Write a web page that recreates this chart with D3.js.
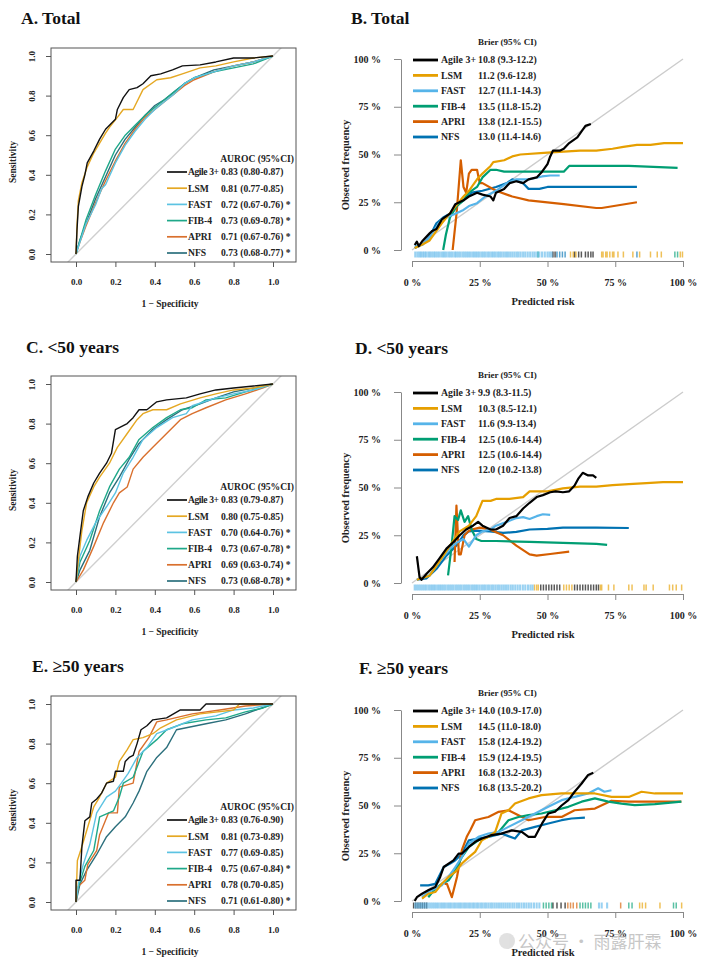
<!DOCTYPE html>
<html><head><meta charset="utf-8">
<script src="https://cdn.jsdelivr.net/npm/d3@7"></script>
<style>body{margin:0;background:#fff}svg{display:block}</style>
</head><body>
<svg id="c" width="709" height="972"></svg>
<script>
// ---------------- DATA ----------------
const models = ["Agile 3+","LSM","FAST","FIB-4","APRI","NFS"];
const rocTicks = [0,0.2,0.4,0.6,0.8,1.0];
const rocTickLabels = ["0.0","0.2","0.4","0.6","0.8","1.0"];
const calTicks = [0,0.25,0.5,0.75,1.0];
const calTickLabels = ["0 %","25 %","50 %","75 %","100 %"];
const rocTitles = ["A. Total","C. <50 years","E. \u226550 years"];
const calTitles = ["B. Total","D. <50 years","F. \u226550 years"];

const aurocA = ["0.83 (0.80-0.87)","0.81 (0.77-0.85)","0.72 (0.67-0.76) *","0.73 (0.69-0.78) *","0.71 (0.67-0.76) *","0.73 (0.68-0.77) *"];
const aurocC = ["0.83 (0.79-0.87)","0.80 (0.75-0.85)","0.70 (0.64-0.76) *","0.73 (0.67-0.78) *","0.69 (0.63-0.74) *","0.73 (0.68-0.78) *"];
const aurocE = ["0.83 (0.76-0.90)","0.81 (0.73-0.89)","0.77 (0.69-0.85)","0.75 (0.67-0.84) *","0.78 (0.70-0.85)","0.71 (0.61-0.80) *"];
const brierB = ["10.8 (9.3-12.2)","11.2 (9.6-12.8)","12.7 (11.1-14.3)","13.5 (11.8-15.2)","13.8 (12.1-15.5)","13.0 (11.4-14.6)"];
const brierD = ["9.9 (8.3-11.5)","10.3 (8.5-12.1)","11.6 (9.9-13.4)","12.5 (10.6-14.4)","12.5 (10.6-14.4)","12.0 (10.2-13.8)"];
const brierF = ["14.0 (10.9-17.0)","14.5 (11.0-18.0)","15.8 (12.4-19.2)","15.9 (12.4-19.5)","16.8 (13.2-20.3)","16.8 (13.5-20.2)"];

// ROC curves [1-specificity, sensitivity]
const rocA_agile = [[0,0],[0.005,0.12],[0.012,0.24],[0.03,0.34],[0.045,0.4],[0.057,0.46],[0.09,0.52],[0.12,0.58],[0.15,0.63],[0.18,0.66],[0.2,0.68],[0.21,0.73],[0.24,0.79],[0.27,0.83],[0.31,0.84],[0.34,0.86],[0.38,0.9],[0.43,0.91],[0.49,0.93],[0.54,0.95],[0.63,0.955],[0.71,0.97],[0.8,0.99],[0.9,0.99],[1,1]];
const rocA_lsm = [[0,0],[0.005,0.14],[0.012,0.27],[0.03,0.36],[0.057,0.44],[0.09,0.51],[0.12,0.56],[0.15,0.61],[0.17,0.64],[0.21,0.69],[0.24,0.73],[0.29,0.73],[0.34,0.83],[0.41,0.88],[0.48,0.89],[0.54,0.91],[0.63,0.94],[0.71,0.95],[0.8,0.97],[0.9,0.99],[1,1]];
const rocA_fast = [[0,0],[0.02,0.06],[0.05,0.15],[0.1,0.25],[0.13,0.33],[0.15,0.35],[0.2,0.46],[0.25,0.55],[0.3,0.62],[0.35,0.68],[0.4,0.73],[0.45,0.77],[0.5,0.81],[0.55,0.86],[0.6,0.89],[0.7,0.92],[0.8,0.95],[0.9,0.97],[1,1]];
const rocA_fib4 = [[0,0],[0.02,0.07],[0.05,0.17],[0.1,0.3],[0.15,0.42],[0.2,0.53],[0.25,0.6],[0.3,0.65],[0.35,0.7],[0.4,0.74],[0.45,0.78],[0.5,0.82],[0.55,0.86],[0.6,0.89],[0.7,0.92],[0.8,0.94],[0.9,0.96],[1,1]];
const rocA_apri = [[0,0],[0.02,0.06],[0.05,0.14],[0.1,0.26],[0.15,0.37],[0.2,0.47],[0.25,0.56],[0.3,0.63],[0.35,0.69],[0.4,0.73],[0.45,0.77],[0.5,0.81],[0.55,0.85],[0.6,0.88],[0.7,0.92],[0.8,0.95],[0.9,0.97],[1,1]];
const rocA_nfs = [[0,0],[0.02,0.07],[0.05,0.15],[0.1,0.28],[0.15,0.39],[0.2,0.5],[0.25,0.58],[0.3,0.64],[0.35,0.7],[0.4,0.75],[0.45,0.78],[0.5,0.82],[0.55,0.86],[0.6,0.89],[0.7,0.93],[0.8,0.95],[0.9,0.97],[1,1]];

const rocC_agile = [[0,0],[0.007,0.13],[0.02,0.23],[0.037,0.36],[0.06,0.43],[0.09,0.5],[0.12,0.55],[0.155,0.6],[0.18,0.65],[0.2,0.77],[0.22,0.78],[0.26,0.8],[0.29,0.83],[0.32,0.87],[0.36,0.87],[0.41,0.91],[0.46,0.92],[0.56,0.93],[0.63,0.95],[0.71,0.97],[0.8,0.98],[1,1]];
const rocC_lsm = [[0,0],[0.012,0.11],[0.03,0.26],[0.054,0.4],[0.09,0.48],[0.12,0.53],[0.17,0.6],[0.21,0.68],[0.26,0.75],[0.31,0.82],[0.34,0.85],[0.39,0.87],[0.46,0.87],[0.53,0.9],[0.63,0.93],[0.71,0.95],[0.8,0.97],[0.9,0.98],[1,1]];
const rocC_fast = [[0,0],[0.02,0.13],[0.054,0.21],[0.1,0.3],[0.155,0.38],[0.2,0.45],[0.24,0.55],[0.29,0.63],[0.34,0.72],[0.41,0.78],[0.49,0.83],[0.56,0.85],[0.59,0.89],[0.71,0.93],[0.8,0.95],[0.9,0.97],[1,1]];
const rocC_fib4 = [[0,0],[0.02,0.1],[0.07,0.21],[0.12,0.36],[0.17,0.48],[0.22,0.57],[0.27,0.63],[0.32,0.72],[0.39,0.78],[0.46,0.83],[0.53,0.87],[0.59,0.88],[0.66,0.92],[0.76,0.93],[0.86,0.96],[1,1]];
const rocC_apri = [[0,0],[0.037,0.06],[0.09,0.18],[0.14,0.3],[0.19,0.4],[0.22,0.45],[0.26,0.48],[0.29,0.57],[0.34,0.63],[0.39,0.68],[0.46,0.75],[0.53,0.82],[0.59,0.85],[0.66,0.88],[0.76,0.92],[0.86,0.95],[0.95,0.98],[1,1]];
const rocC_nfs = [[0,0],[0.02,0.06],[0.07,0.16],[0.12,0.33],[0.17,0.45],[0.22,0.53],[0.27,0.62],[0.32,0.7],[0.39,0.77],[0.46,0.82],[0.54,0.87],[0.63,0.9],[0.71,0.93],[0.8,0.96],[1,1]];

const rocE_agile = [[0,0],[0,0.11],[0.02,0.11],[0.03,0.28],[0.045,0.41],[0.07,0.43],[0.08,0.5],[0.105,0.52],[0.13,0.55],[0.155,0.6],[0.19,0.61],[0.2,0.66],[0.24,0.66],[0.25,0.71],[0.27,0.73],[0.29,0.74],[0.31,0.8],[0.33,0.87],[0.36,0.89],[0.39,0.92],[0.46,0.93],[0.53,0.97],[0.63,0.97],[0.66,1],[1,1]];
const rocE_lsm = [[0,0],[0.007,0.21],[0.03,0.28],[0.054,0.36],[0.09,0.48],[0.12,0.53],[0.155,0.6],[0.2,0.63],[0.22,0.71],[0.26,0.77],[0.29,0.82],[0.34,0.83],[0.39,0.85],[0.43,0.88],[0.51,0.92],[0.63,0.95],[0.8,0.97],[0.83,1],[1,1]];
const rocE_fast = [[0,0],[0.012,0.09],[0.037,0.19],[0.07,0.29],[0.105,0.45],[0.155,0.53],[0.2,0.56],[0.23,0.6],[0.265,0.65],[0.31,0.73],[0.36,0.78],[0.41,0.85],[0.49,0.88],[0.59,0.92],[0.71,0.94],[0.8,0.97],[0.9,0.98],[1,1]];
const rocE_fib4 = [[0,0],[0.007,0.06],[0.045,0.18],[0.09,0.26],[0.12,0.43],[0.19,0.46],[0.22,0.53],[0.24,0.6],[0.29,0.63],[0.34,0.76],[0.41,0.82],[0.46,0.87],[0.54,0.9],[0.66,0.92],[0.76,0.93],[0.86,0.96],[0.95,0.98],[1,1]];
const rocE_apri = [[0,0],[0.012,0.08],[0.045,0.11],[0.06,0.19],[0.105,0.26],[0.12,0.34],[0.165,0.45],[0.21,0.45],[0.22,0.58],[0.29,0.6],[0.32,0.76],[0.37,0.83],[0.41,0.91],[0.46,0.92],[0.59,0.95],[0.73,0.97],[0.86,0.99],[1,1]];
const rocE_nfs = [[0,0],[0.02,0.09],[0.054,0.16],[0.105,0.24],[0.155,0.33],[0.2,0.38],[0.25,0.43],[0.29,0.5],[0.32,0.56],[0.36,0.66],[0.41,0.73],[0.46,0.78],[0.51,0.87],[0.56,0.88],[0.66,0.9],[0.76,0.92],[0.86,0.95],[1,1]];

// Calibration curves [predicted risk, observed frequency]
const calB_agile = [[0.01,0.026],[0.018,0.044],[0.025,0.02],[0.04,0.05],[0.065,0.087],[0.075,0.1],[0.09,0.11],[0.11,0.16],[0.14,0.19],[0.16,0.24],[0.19,0.26],[0.21,0.28],[0.24,0.3],[0.26,0.29],[0.29,0.28],[0.3,0.26],[0.31,0.3],[0.34,0.32],[0.36,0.35],[0.385,0.36],[0.41,0.35],[0.43,0.37],[0.46,0.38],[0.48,0.41],[0.5,0.45],[0.51,0.49],[0.52,0.52],[0.545,0.52],[0.56,0.53],[0.58,0.56],[0.61,0.59],[0.625,0.62],[0.64,0.65],[0.66,0.66]];
const calB_lsm = [[0.01,0.01],[0.04,0.03],[0.065,0.05],[0.09,0.1],[0.11,0.14],[0.15,0.21],[0.19,0.28],[0.21,0.31],[0.24,0.37],[0.26,0.4],[0.29,0.44],[0.3,0.46],[0.34,0.47],[0.37,0.49],[0.4,0.5],[0.5,0.51],[0.56,0.515],[0.62,0.52],[0.68,0.52],[0.74,0.53],[0.78,0.54],[0.83,0.55],[0.88,0.55],[0.93,0.56],[1.0,0.56]];
const calB_fast = [[0.01,0.02],[0.04,0.03],[0.065,0.07],[0.11,0.16],[0.16,0.19],[0.19,0.21],[0.21,0.23],[0.24,0.245],[0.27,0.28],[0.31,0.31],[0.35,0.35],[0.385,0.37],[0.43,0.37],[0.48,0.385],[0.51,0.39],[0.545,0.39]];
const calB_fib4 = [[0.115,0],[0.125,0.08],[0.14,0.17],[0.165,0.23],[0.19,0.26],[0.21,0.3],[0.24,0.33],[0.26,0.38],[0.29,0.42],[0.31,0.42],[0.34,0.41],[0.43,0.41],[0.56,0.41],[0.58,0.44],[0.68,0.44],[0.8,0.44],[0.98,0.43]];
const calB_apri = [[0.15,0],[0.165,0.2],[0.18,0.47],[0.19,0.33],[0.2,0.3],[0.21,0.4],[0.22,0.42],[0.24,0.42],[0.25,0.35],[0.26,0.35],[0.31,0.31],[0.37,0.28],[0.43,0.26],[0.56,0.24],[0.68,0.22],[0.7,0.22],[0.83,0.25]];
const calB_nfs = [[0.01,0.01],[0.04,0.03],[0.065,0.07],[0.09,0.14],[0.115,0.17],[0.14,0.19],[0.16,0.23],[0.19,0.26],[0.22,0.3],[0.26,0.31],[0.31,0.33],[0.35,0.35],[0.37,0.37],[0.41,0.35],[0.43,0.32],[0.47,0.32],[0.5,0.33],[0.56,0.33],[0.83,0.33]];

const calD_agile = [[0.018,0.14],[0.028,0.03],[0.035,0.017],[0.053,0.047],[0.077,0.082],[0.1,0.126],[0.127,0.18],[0.15,0.21],[0.176,0.25],[0.2,0.28],[0.225,0.3],[0.244,0.32],[0.26,0.3],[0.29,0.28],[0.31,0.28],[0.336,0.3],[0.36,0.34],[0.385,0.35],[0.41,0.39],[0.434,0.42],[0.46,0.45],[0.483,0.46],[0.51,0.475],[0.53,0.48],[0.557,0.475],[0.58,0.48],[0.6,0.51],[0.613,0.545],[0.63,0.577],[0.65,0.563],[0.668,0.563],[0.68,0.55]];
const calD_lsm = [[0.018,0.017],[0.065,0.038],[0.1,0.11],[0.14,0.196],[0.176,0.27],[0.21,0.3],[0.237,0.35],[0.26,0.43],[0.29,0.43],[0.31,0.44],[0.36,0.44],[0.41,0.45],[0.434,0.48],[0.5,0.48],[0.557,0.495],[0.62,0.505],[0.68,0.505],[0.74,0.512],[0.8,0.518],[0.865,0.523],[0.926,0.528],[1.0,0.528]];
const calD_fast = [[0.018,0.017],[0.065,0.04],[0.1,0.11],[0.14,0.18],[0.164,0.21],[0.19,0.23],[0.21,0.19],[0.237,0.25],[0.26,0.27],[0.29,0.28],[0.31,0.3],[0.35,0.32],[0.385,0.34],[0.41,0.345],[0.434,0.335],[0.46,0.35],[0.483,0.36],[0.51,0.357]];
const calD_fib4 = [[0.133,0.04],[0.145,0.18],[0.157,0.35],[0.17,0.33],[0.18,0.38],[0.194,0.32],[0.207,0.35],[0.22,0.28],[0.237,0.23],[0.256,0.22],[0.31,0.22],[0.434,0.215],[0.557,0.21],[0.68,0.205],[0.72,0.2]];
const calD_apri = [[0.157,0.11],[0.164,0.405],[0.173,0.15],[0.18,0.15],[0.194,0.25],[0.207,0.27],[0.22,0.28],[0.25,0.29],[0.287,0.28],[0.336,0.25],[0.385,0.196],[0.434,0.15],[0.46,0.143],[0.51,0.152],[0.58,0.164]];
const calD_nfs = [[0.018,0.017],[0.053,0.024],[0.09,0.073],[0.127,0.143],[0.164,0.196],[0.19,0.25],[0.21,0.27],[0.237,0.274],[0.287,0.27],[0.336,0.262],[0.385,0.268],[0.434,0.28],[0.5,0.283],[0.557,0.29],[0.68,0.29],[0.8,0.288]];

const calF_agile = [[0.01,0],[0.018,0.02],[0.037,0.038],[0.06,0.056],[0.086,0.073],[0.104,0.126],[0.117,0.178],[0.135,0.196],[0.153,0.213],[0.172,0.248],[0.184,0.248],[0.21,0.283],[0.233,0.31],[0.258,0.327],[0.294,0.345],[0.33,0.353],[0.368,0.37],[0.405,0.362],[0.43,0.336],[0.454,0.336],[0.48,0.406],[0.503,0.458],[0.528,0.467],[0.552,0.5],[0.577,0.528],[0.6,0.572],[0.626,0.615],[0.65,0.66],[0.669,0.671]];
const calF_lsm = [[0.037,0.012],[0.06,0.038],[0.086,0.047],[0.11,0.09],[0.135,0.126],[0.16,0.152],[0.184,0.196],[0.21,0.23],[0.233,0.257],[0.258,0.318],[0.282,0.336],[0.307,0.362],[0.33,0.458],[0.356,0.475],[0.38,0.51],[0.43,0.537],[0.478,0.554],[0.552,0.563],[0.626,0.563],[0.675,0.563],[0.736,0.545],[0.8,0.545],[0.847,0.572],[0.896,0.563],[1.0,0.563]];
const calF_fast = [[0.037,0.02],[0.06,0.047],[0.086,0.065],[0.11,0.082],[0.135,0.126],[0.16,0.178],[0.184,0.23],[0.21,0.3],[0.245,0.336],[0.282,0.353],[0.32,0.362],[0.356,0.388],[0.405,0.423],[0.454,0.458],[0.503,0.493],[0.552,0.528],[0.6,0.545],[0.65,0.563],[0.687,0.59],[0.71,0.572],[0.736,0.58]];
const calF_fib4 = [[0.06,0.02],[0.086,0.065],[0.11,0.09],[0.135,0.108],[0.16,0.16],[0.184,0.23],[0.21,0.283],[0.245,0.318],[0.282,0.336],[0.32,0.362],[0.356,0.423],[0.393,0.44],[0.43,0.45],[0.478,0.458],[0.528,0.475],[0.577,0.493],[0.626,0.52],[0.675,0.537],[0.724,0.52],[0.773,0.51],[0.822,0.502],[0.896,0.507],[0.994,0.52]];
const calF_apri = [[0.12,0.09],[0.129,0.09],[0.147,0.02],[0.166,0.126],[0.184,0.266],[0.202,0.336],[0.215,0.37],[0.233,0.423],[0.258,0.432],[0.282,0.44],[0.32,0.467],[0.356,0.475],[0.38,0.458],[0.43,0.423],[0.49,0.44],[0.552,0.44],[0.6,0.475],[0.675,0.484],[0.736,0.525],[0.8,0.52],[0.994,0.52]];
const calF_nfs = [[0.03,0.082],[0.06,0.082],[0.086,0.09],[0.117,0.178],[0.141,0.196],[0.16,0.213],[0.184,0.248],[0.21,0.318],[0.245,0.327],[0.282,0.336],[0.33,0.353],[0.38,0.327],[0.405,0.37],[0.454,0.388],[0.503,0.406],[0.552,0.423],[0.589,0.432],[0.638,0.437]];

// Rug (predicted risks)
const rugB_fast = [0.012,0.02,0.027,0.033,0.04,0.046,0.052,0.06,0.066,0.073,0.08,0.086,0.093,0.1,0.108,0.115,0.121,0.128,0.136,0.143,0.15,0.158,0.164,0.171,0.178,0.186,0.193,0.2,0.207,0.214,0.222,0.229,0.236,0.243,0.25,0.258,0.265,0.272,0.28,0.287,0.295,0.302,0.309,0.317,0.324,0.331,0.339,0.347,0.354,0.362,0.37,0.378,0.386,0.393,0.401,0.41,0.418,0.427,0.436,0.445,0.453,0.462,0.47,0.48,0.49,0.5,0.508,0.515];
const rugB_agile = [0.52,0.528,0.6,0.615,0.625,0.64,0.65,0.66,0.668];
const rugB_lsm = [0.585,0.595,0.605,0.7,0.705,0.715,0.72,0.73,0.74,0.745,0.76,0.78,0.815,0.84,0.88,0.905,0.92,0.99,0.998];
const rugB_nfs = [0.535,0.545,0.555,0.565,0.83];
const rugB_fib4 = [0.465,0.97,0.98];

const rugD_fast = [0.01,0.017,0.024,0.031,0.038,0.045,0.052,0.06,0.067,0.074,0.081,0.088,0.096,0.103,0.11,0.117,0.124,0.132,0.139,0.146,0.153,0.161,0.168,0.175,0.182,0.19,0.197,0.204,0.211,0.219,0.226,0.233,0.24,0.248,0.256,0.263,0.27,0.278,0.285,0.293,0.3,0.308,0.316,0.323,0.331,0.339,0.347,0.355,0.364,0.372,0.381,0.39,0.399,0.409,0.418,0.428,0.437,0.445];
const rugD_agile = [0.475,0.485,0.495,0.505,0.515,0.525,0.535,0.545,0.6,0.61,0.62,0.63,0.64,0.65,0.66,0.67,0.68,0.688];
const rugD_lsm = [0.452,0.46,0.466,0.56,0.57,0.58,0.59,0.695,0.7,0.725,0.745,0.8,0.812,0.856,0.864,0.89,0.95,0.962,0.975,0.995];

const rugF_fast = [0.012,0.019,0.026,0.033,0.04,0.047,0.054,0.061,0.068,0.075,0.082,0.089,0.096,0.104,0.111,0.118,0.125,0.133,0.14,0.147,0.155,0.162,0.17,0.177,0.184,0.192,0.199,0.207,0.214,0.222,0.229,0.237,0.244,0.252,0.259,0.267,0.274,0.282,0.29,0.297,0.305,0.313,0.321,0.329,0.337,0.345,0.353,0.361,0.37,0.378,0.387,0.395,0.404,0.413,0.422,0.431,0.44,0.45,0.46,0.47,0.69,0.7,0.72];
const rugF_agile = [0.006,0.014,0.022,0.03,0.038,0.046,0.054,0.52,0.535,0.55,0.565];
const rugF_fib4 = [0.485,0.495,0.505,0.515,0.62,0.63,0.64,0.65,0.66,0.8,0.812,0.965,0.975];
const rugF_apri = [0.575,0.585,0.595,0.608,0.77];
const rugF_lsm = [0.84,0.85,0.862,0.915,0.995];

// ---------------- DRAWING ----------------
const svg = d3.select("#c");
const serif = "'Liberation Serif','Times New Roman',serif";
const rocColors = ["#111111","#E5A823","#5CC3E2","#1FA889","#D9702E","#2B6F7C"];
const calColors = ["#000000","#E69F00","#56B4E9","#009E73","#D55E00","#0072B2"];

const rocPanels = [
  {title:rocTitles[0], tx:21, ty:24, dy:0, curves:[rocA_agile,rocA_lsm,rocA_fast,rocA_fib4,rocA_apri,rocA_nfs], vals:aurocA},
  {title:rocTitles[1], tx:26, ty:353, dy:328, curves:[rocC_agile,rocC_lsm,rocC_fast,rocC_fib4,rocC_apri,rocC_nfs], vals:aurocC},
  {title:rocTitles[2], tx:32, ty:672, dy:648, curves:[rocE_agile,rocE_lsm,rocE_fast,rocE_fib4,rocE_apri,rocE_nfs], vals:aurocE}
];
const calPanels = [
  {title:calTitles[0], tx:351, ty:24, dy:0, curves:[calB_agile,calB_lsm,calB_fast,calB_fib4,calB_apri,calB_nfs], vals:brierB,
   rugs:[[rugB_agile,0],[rugB_lsm,1],[rugB_nfs,5],[rugB_fib4,3],[rugB_fast,2]]},
  {title:calTitles[1], tx:355, ty:354, dy:333, curves:[calD_agile,calD_lsm,calD_fast,calD_fib4,calD_apri,calD_nfs], vals:brierD,
   rugs:[[rugD_agile,0],[rugD_lsm,1],[rugD_fast,2]]},
  {title:calTitles[2], tx:359, ty:674, dy:651, curves:[calF_agile,calF_lsm,calF_fast,calF_fib4,calF_apri,calF_nfs], vals:brierF,
   rugs:[[rugF_agile,0],[rugF_lsm,1],[rugF_fib4,3],[rugF_apri,4],[rugF_fast,2]]}
];

function title(t, x, y){
  svg.append("text").attr("x",x).attr("y",y).attr("font-family",serif)
    .attr("font-weight","bold").attr("font-size",17.5).attr("fill","#111").text(t);
}

rocPanels.forEach((p,pi)=>{
  const dy = p.dy;
  const g = svg.append("g");
  title(p.title, p.tx, p.ty);
  const x = d3.scaleLinear().domain([0,1]).range([76,273]);
  const y = d3.scaleLinear().domain([0,1]).range([254+dy,56+dy]);
  const bx0=51,bx1=296,by0=48+dy,by1=262+dy;
  const cid = "rc"+pi;
  svg.append("clipPath").attr("id",cid).append("rect").attr("x",bx0).attr("y",by0).attr("width",bx1-bx0).attr("height",by1-by0);
  g.append("line").attr("clip-path",`url(#${cid})`)
    .attr("x1",x(-0.2)).attr("y1",y(-0.2)).attr("x2",x(1.2)).attr("y2",y(1.2))
    .attr("stroke","#cfcfcf").attr("stroke-width",1.4);
  const line = d3.line().x(d=>x(d[0])).y(d=>y(d[1]));
  for(let i=models.length-1;i>=0;i--){
    g.append("path").attr("d",line(p.curves[i])).attr("fill","none")
      .attr("stroke",rocColors[i]).attr("stroke-width",1.4).attr("stroke-linejoin","round");
  }
  g.append("rect").attr("x",bx0).attr("y",by0).attr("width",bx1-bx0).attr("height",by1-by0)
    .attr("fill","none").attr("stroke","#555").attr("stroke-width",1);
  const xa = g.append("g").attr("transform",`translate(0,${by1})`)
    .call(d3.axisBottom(x).tickValues(rocTicks).tickFormat((d,i)=>rocTickLabels[i]).tickSize(5).tickSizeOuter(0).tickPadding(12));
  xa.select(".domain").remove();
  xa.selectAll("line").attr("stroke","#555");
  xa.selectAll("text").attr("font-family",serif).attr("font-weight","bold").attr("font-size",9).attr("fill","#222");
  const ya = g.append("g").attr("transform",`translate(${bx0},0)`)
    .call(d3.axisLeft(y).tickValues(rocTicks).tickFormat((d,i)=>rocTickLabels[i]).tickSize(5).tickSizeOuter(0));
  ya.select(".domain").remove();
  ya.selectAll("line").attr("stroke","#555");
  ya.selectAll("text").attr("font-family",serif).attr("font-weight","bold").attr("font-size",9).attr("fill","#222")
    .attr("transform","rotate(-90)").attr("x",0).attr("y",-16).attr("dy",0).style("text-anchor","middle");
  g.append("text").attr("x",170).attr("y",307+dy).attr("text-anchor","middle")
    .attr("font-family",serif).attr("font-weight","bold").attr("font-size",9.5).attr("fill","#222").text("1 \u2212 Specificity");
  g.append("text").attr("transform",`translate(16,${162+dy}) rotate(-90)`).attr("text-anchor","middle")
    .attr("font-family",serif).attr("font-weight","bold").attr("font-size",9.5).attr("fill","#222").text("Sensitivity");
  const lg = g.append("g").attr("font-family",serif).attr("font-weight","bold").attr("fill","#222");
  lg.append("text").attr("x",294).attr("y",162+dy).attr("text-anchor","end").attr("font-size",9.6).text("AUROC (95%CI)");
  models.forEach((m,i)=>{
    const yy = 172+dy+i*16.2;
    lg.append("line").attr("x1",167).attr("x2",187).attr("y1",yy).attr("y2",yy)
      .attr("stroke",rocColors[i]).attr("stroke-width",1.7);
    lg.append("text").attr("x",188).attr("y",yy+3.3).attr("font-size",9.6).attr("textLength",i===0?31:null).text(m);
    lg.append("text").attr("x",221).attr("y",yy+3.3).attr("font-size",9.6).text(p.vals[i]);
  });
});

calPanels.forEach((p,pi)=>{
  const dy = p.dy;
  const g = svg.append("g");
  title(p.title, p.tx, p.ty);
  const x = d3.scaleLinear().domain([0,1]).range([412,683]);
  const y = d3.scaleLinear().domain([0,1]).range([250+dy,59+dy]);
  g.append("line").attr("x1",x(0)).attr("y1",y(0)).attr("x2",x(1)).attr("y2",y(1))
    .attr("stroke","#cccccc").attr("stroke-width",1.4);
  p.rugs.forEach(([vals,ci])=>{
    g.selectAll(null).data(vals).enter().append("line")
      .attr("x1",d=>x(d)).attr("x2",d=>x(d)).attr("y1",y(0)+1.5).attr("y2",y(0)+7.5)
      .attr("stroke",calColors[ci]).attr("stroke-opacity",ci===2?0.6:0.65).attr("stroke-width",ci===2?2.1:1.5);
  });
  const line = d3.line().x(d=>x(d[0])).y(d=>y(d[1]));
  for(let i=models.length-1;i>=0;i--){
    g.append("path").attr("d",line(p.curves[i])).attr("fill","none")
      .attr("stroke",calColors[i]).attr("stroke-width",2.2).attr("stroke-linejoin","round");
  }
  const ya = g.append("g").attr("transform","translate(401,0)")
    .call(d3.axisLeft(y).tickValues(calTicks).tickFormat((d,i)=>calTickLabels[i]).tickSize(7).tickSizeOuter(0).tickPadding(13));
  ya.select(".domain").attr("stroke","#888");
  ya.selectAll("line").attr("stroke","#888");
  ya.selectAll("text").attr("font-family",serif).attr("font-weight","bold").attr("font-size",10).attr("fill","#222");
  const xa = g.append("g").attr("transform",`translate(0,${261+dy})`)
    .call(d3.axisBottom(x).tickValues(calTicks).tickFormat((d,i)=>calTickLabels[i]).tickSize(6).tickSizeOuter(0).tickPadding(12));
  xa.select(".domain").attr("stroke","#888");
  xa.selectAll("line").attr("stroke","#888");
  xa.selectAll("text").attr("font-family",serif).attr("font-weight","bold").attr("font-size",10).attr("fill","#222");
  g.append("text").attr("x",543).attr("y",305+dy).attr("text-anchor","middle")
    .attr("font-family",serif).attr("font-weight","bold").attr("font-size",10.5).attr("fill","#222").text("Predicted risk");
  g.append("text").attr("transform",`translate(349,${165+dy}) rotate(-90)`).attr("text-anchor","middle")
    .attr("font-family",serif).attr("font-weight","bold").attr("font-size",10.5).attr("fill","#222").text("Observed frequency");
  const lg = g.append("g").attr("font-family",serif).attr("font-weight","bold").attr("fill","#222");
  lg.append("text").attr("x",478).attr("y",45+dy).attr("font-size",9).text("Brier (95% CI)");
  models.forEach((m,i)=>{
    const yy = 60+dy+i*15.4;
    lg.append("line").attr("x1",413).attr("x2",438).attr("y1",yy).attr("y2",yy)
      .attr("stroke",calColors[i]).attr("stroke-width",2.8);
    lg.append("text").attr("x",441).attr("y",yy+3.3).attr("font-size",9.8).attr("textLength",i===0?35:null).text(m);
    lg.append("text").attr("x",478).attr("y",yy+3.3).attr("font-size",9.8).text(p.vals[i]);
  });
});

// watermark
const wm = svg.append("g").attr("opacity",0.55);
wm.append("circle").attr("cx",507).attr("cy",941).attr("r",8).attr("fill","#c8c8c8");
wm.append("text").attr("x",518).attr("y",948).attr("font-family","'Noto Sans CJK SC',sans-serif")
  .attr("font-size",17).attr("fill","#9a9a9a").text("\u516c\u4f17\u53f7 \u00b7 \u96e8\u9732\u809d\u9716");
</script>
</body></html>
